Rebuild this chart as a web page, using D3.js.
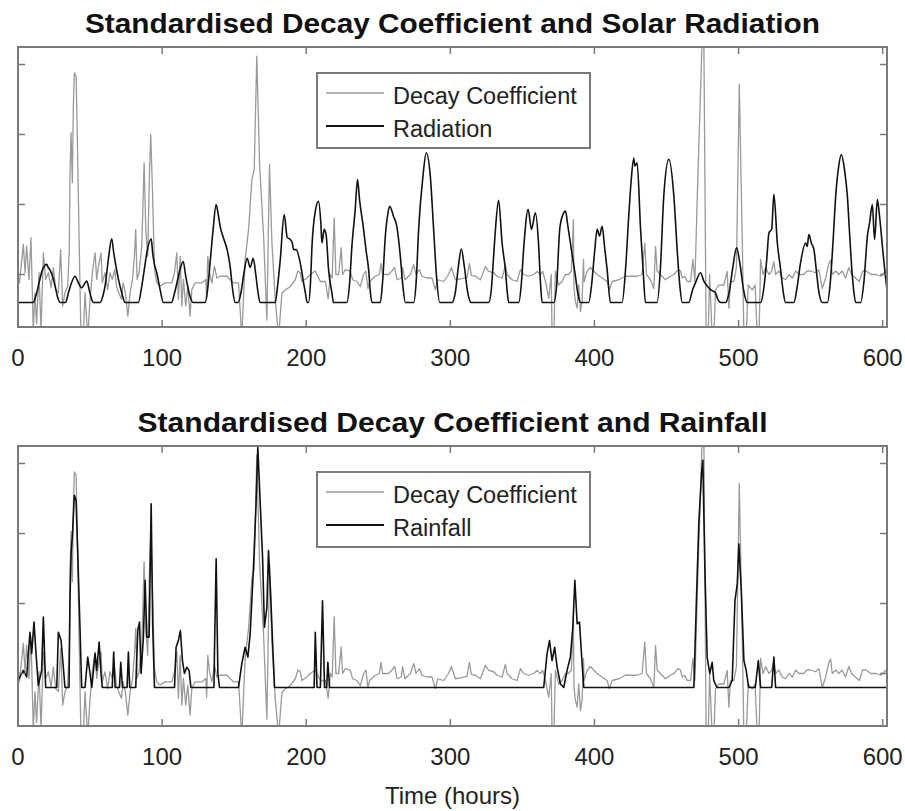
<!DOCTYPE html>
<html>
<head>
<meta charset="utf-8">
<script src="https://cdn.jsdelivr.net/npm/d3@7"></script>
<style>
  body { margin: 0; background: #fff; }
  svg { display: block; font-family: "Liberation Sans", Arial, sans-serif; }
</style>
</head>
<body>
<script>
// hours on x, standardised values on y ([hour, value] pairs)
var xTicks = [0, 100, 200, 300, 400, 500, 600];
var yTicks = [0, 2, 4, 6];
var titles = ["Standardised Decay Coefficient and Solar Radiation", "Standardised Decay Coefficient and Rainfall"];
var seriesNames = ["Decay Coefficient", "Radiation", "Rainfall"];

var decay = [[0,0],[1,-0.24],[3.7,0.86],[4.9,0.05],[6,0.81],[7.6,-0.14],[9,1.05],[10.6,-1.6],[11.8,-0.52],[12.9,-1.4],
  [14.6,0.05],[16,-1.6],[17.6,0.62],[19.2,-0.14],[21.1,0.05],[23,-0.38],[24.5,0.19],[26.2,-0.43],[28,-0.52],[29.6,0.71],
  [31,-0.9],[32.6,-0.52],[34.5,-0.33],[35.6,0.71],[36.1,2.9],[36.8,4.05],[37.7,2.62],[38.4,4.81],[39.1,5.76],[40.3,5.67],
  [41.2,3.86],[42.4,1],[43.7,-1.8],[45.3,-1.8],[46.5,-0.52],[48.4,-1.8],[50,-0.71],[51.6,0.05],[53.5,0.62],[54.6,-0.14],
  [55.8,0.24],[57.6,0.62],[58.5,-0.24],[60.4,0.05],[62.2,-0.43],[63.8,0.05],[65.4,-0.14],[67.1,0.14],[68.3,-0.33],[69.9,-0.52],
  [71.8,-0.71],[72.9,-0.24],[74.5,-0.52],[76.2,-1.19],[77.8,-0.52],[79.4,-0.14],[80.8,0.52],[81.7,1.29],[82.6,-0.14],[84,0.05],
  [85.9,0.81],[87.5,3.19],[88.7,1.24],[90,0.52],[91.2,2.9],[92.1,4.0],[93.3,2.43],[94.7,0.14],[96.3,-0.24],[98.6,-0.33],
  [102.1,-0.24],[106.7,-0.24],[108.6,0.05],[110.2,0.62],[111.3,-0.71],[112.5,0.52],[113.7,-0.9],[114.8,-0.14],[116.4,-0.9],[117.8,-0.33],
  [119.4,-1.19],[120.6,-0.43],[122.9,-0.24],[127.5,-0.24],[130.3,-0.14],[130.9,-0.68],[131.7,0.52],[132.9,0.05],[134.5,-0.24],[136.3,0.24],
  [138,-0.1],[140.3,-0.05],[145,-0.05],[149.5,-0.24],[153,-0.24],[155.3,-1.8],[157.6,0.43],[160,1.29],[162.3,2.71],[163.9,3.0],
  [165.7,6.24],[167.6,3.19],[170.4,1.1],[172.7,-1.3],[174.5,3.14],[176.2,0.9],[178.5,-0.71],[180.8,-1.8],[183.1,-0.55],[185.4,-0.44],
  [188.9,-0.35],[192.4,-0.15],[194.2,0.1],[195.9,0.05],[197,-0.2],[200.5,-0.1],[202.8,0],[206.3,0.1],[209.8,-0.2],[213.3,-0.2],
  [215.2,-0.7],[216.8,0],[218,-0.1],[219.4,1.62],[220.6,0],[222.5,0],[224.3,0.76],[225.2,0],[227.1,0.14],[230.5,0.1],
  [232.2,-0.15],[235.2,-0.2],[237.5,-0.35],[239.8,0],[241.4,0.1],[242.8,-0.4],[244,-0.2],[247.9,-0.05],[250.7,0],[251.9,0.32],
  [253,0],[257.2,0],[259.5,0.1],[261.4,0.2],[263,-0.15],[266,-0.1],[266.9,0.2],[268.5,-0.15],[272.3,0],[274.6,0.28],
  [276.2,0],[278.5,0.14],[280.3,-0.05],[283.8,-0.1],[287.3,-0.1],[289.6,-0.44],[291.2,-0.15],[295.4,-0.2],[298.8,0],[300.7,0.2],
  [303.5,-0.15],[308.1,-0.12],[311.6,-0.08],[313.2,0.32],[314.6,-0.03],[317.4,-0.05],[320.8,-0.15],[323.1,0.09],[324.3,0.23],[326.6,0.09],
  [330.1,0.05],[332.4,-0.05],[335.9,-0.1],[338.2,0.26],[339.4,0],[342.8,-0.15],[346.3,-0.2],[348.6,0.14],[350.9,0],[354.4,-0.05],
  [357.9,0],[360.2,0.09],[362.5,0],[364.1,0.09],[366,-0.2],[368.3,-0.68],[370,0],[370.6,-1.8],[371.8,-1.8],[372.9,0.09],
  [375.2,-0.3],[377.5,-0.2],[379.9,0],[382,0],[384,0.1],[385.4,1.57],[385.8,-0.4],[386.8,-0.77],[388,-0.96],[389.1,-0.3],
  [390.3,-1.06],[391.4,-0.77],[392.4,0.43],[392.8,-0.2],[394.9,0.09],[397.2,0.2],[399.5,0.1],[401.9,0],[405.3,-0.1],[408.8,-0.2],
  [410.4,-0.44],[412.3,-0.2],[416.9,-0.15],[419.2,-0.1],[421.5,-0.05],[426.2,-0.05],[429.6,-0.05],[433.1,0],[434.9,0.9],[436.1,0],
  [438.9,-0.15],[441.2,-0.4],[442.4,0.8],[443.5,0.1],[445.8,0],[449.3,-0.15],[452.8,-0.05],[455.1,0],[458.1,0.14],[459.7,0.1],
  [460.9,-0.1],[462.7,-0.05],[464.4,-0.2],[466.7,-0.2],[468.3,0.43],[469.7,-0.2],[471.5,2.43],[474.8,6.8],[475.9,6.8],[477.5,-1.8],
  [478.9,-1.8],[479.9,0],[481.7,-1.8],[482.8,-1.8],[484,-0.44],[486.3,-0.3],[489.8,-0.3],[492.1,0.09],[493.3,-0.96],[494.4,-0.2],
  [496.8,-0.2],[498.5,0.2],[500.5,5.43],[502.6,0.9],[503.7,-1.8],[505.3,-1.8],[506.7,-0.3],[509.5,-0.44],[511.5,-0.3],[513,-1.8],
  [514.2,-1.8],[515.3,0.43],[517,0],[518.8,0.2],[521.1,0],[523,0.1],[524.5,0.37],[525.7,0],[528,0.1],[530.3,-0.1],
  [532.6,-0.15],[535,0],[537.3,-0.1],[539.6,0.1],[541.9,0],[545.2,0],[547.5,0.1],[550,0.1],[553.4,0.05],[555.7,0.14],
  [558.1,-0.4],[560.4,-0.1],[562.7,0.32],[563.9,0.41],[565,0],[567.4,0.1],[569.6,0],[571.9,0.1],[574.2,-0.1],[576.5,0.2],
  [578.4,0],[581.1,-0.1],[583.8,-0.2],[586.1,0.1],[588.5,0.1],[591.9,0],[595.4,0],[598.8,-0.05],[602.3,0.1],[603.5,0.05]];

var radiation = [
  [0,-0.8],[10.5,-0.8],[12.5,-0.6],[14.6,-0.24],[17,0.14],[19.9,0.29],[21,0.2],[22.3,0.12],[24,-0.05],[25.7,-0.33],[27.5,-0.65],[29.2,-0.8],
  [33,-0.8],[35,-0.52],[37.5,-0.2],[39.6,-0.05],[41.5,-0.2],[44.2,-0.38],[47.7,-0.19],[49.5,-0.45],[50.7,-0.65],[52.3,-0.8],
  [57,-0.8],[59,-0.6],[60.4,-0.33],[62.7,0.43],[65,1.02],[66.5,0.6],[67.5,0.35],[69.7,-0.14],[72,-0.52],[74.3,-0.8],
  [83.5,-0.8],[85.9,-0.33],[87.5,0.1],[89.4,0.62],[92.4,1.02],[93.5,0.6],[94.7,0.29],[96.3,0.05],[98.6,-0.43],[100.9,-0.8],
  [106.5,-0.8],[108.5,-0.55],[110.5,-0.2],[112.5,0.15],[114.6,0.37],[116.4,-0.05],[118.7,-0.52],[121.5,-0.8],
  [129.9,-0.8],[131.5,-0.45],[133.3,0.34],[135.4,1.29],[137.5,2.0],[138.8,1.75],[140.3,1.37],[142.5,1.05],[145.1,0.71],[147.2,0.23],[149,-0.45],[150.7,-0.8],
  [152.8,-0.8],[154.8,-0.5],[156.8,0.05],[159,0.46],[161.1,0.2],[163.2,0.46],[165,0.0],[166.5,-0.5],[168,-0.8],
  [178.5,-0.8],[180.2,-0.3],[182,0.43],[184.7,1.71],[186.8,1.06],[188.9,1.0],[190.3,0.91],[191.2,0.71],[193,0.71],[195.8,0.34],[198,-0.2],[199.3,-0.5],[200.7,-0.8],
  [201.6,-0.8],[203,-0.2],[204,0.81],[206.3,1.81],[208.5,2.09],[210.2,1.43],[210.9,0.9],[212.5,1.29],[213.9,1.1],[215.5,0.14],[217.8,-0.52],[218.9,-0.8],
  [228.2,-0.8],[230,-0.3],[231.7,0.81],[234,1.86],[235.6,2.71],[237,2.14],[239.8,1.29],[241.5,0.7],[243.3,0.14],[244.5,-0.5],[245.6,-0.8],
  [251.4,-0.8],[253,-0.2],[254.9,1.1],[256.5,1.7],[257.9,1.95],[260.6,1.66],[262.9,1.37],[265.3,0.52],[267,-0.3],[268.8,-0.8],
  [274.5,-0.8],[276.3,-0.2],[278,1.29],[281,2.81],[283.3,3.48],[286.1,2.81],[288.4,1.29],[290.5,-0.1],[292.6,-0.8],
  [301.2,-0.8],[303.5,-0.5],[305.5,0.2],[307.6,0.73],[309.8,0.2],[312,-0.5],[314.4,-0.8],
  [326.6,-0.8],[328.5,-0.4],[330,0.5],[331.3,1.29],[333.5,2.12],[335.9,0.9],[338.2,0.14],[339.5,-0.5],[340.5,-0.8],
  [347.5,-0.8],[349.2,-0.3],[351,0.81],[354,1.86],[356.3,1.29],[359,1.76],[361.3,0.81],[362.5,-0.2],[363.7,-0.8],
  [371.8,-0.8],[373.8,-0.3],[375.9,1.29],[378,1.7],[379.9,1.81],[381.5,1.4],[383.3,0.9],[386.8,-0.05],[388.5,-0.55],[390.3,-0.8],
  [396,-0.8],[398,-0.3],[400,0.6],[401.9,1.29],[403.5,1.1],[405.3,1.38],[407,0.8],[408.8,0.14],[411.1,-0.8],
  [419.2,-0.8],[421.5,0.1],[423.8,1.67],[425.5,2.7],[427.3,3.33],[428,3.1],[429.6,3.19],[432,1.29],[433.8,0.1],[435.4,-0.8],
  [443.5,-0.8],[445.8,0.2],[448.1,2.24],[451.6,3.29],[455.1,2.24],[457.4,0.71],[459.2,-0.3],[460.9,-0.8],
  [465.5,-0.8],[468,-0.45],[470.1,-0.24],[473.6,0.05],[475.9,-0.19],[478.2,-0.33],[480.5,-0.43],[483.9,-0.52],[485.5,-0.7],[487.5,-0.8],
  [491,-0.8],[493.5,-0.5],[496,0.2],[498.6,0.76],[501,0.3],[503.5,-0.45],[506,-0.8],
  [515.3,-0.8],[517.5,-0.4],[519.5,0.4],[521.1,1.19],[523,1.3],[524.5,2.29],[526.9,0.9],[529.2,0.14],[531,-0.5],[532.6,-0.8],
  [538.4,-0.8],[540.5,-0.4],[543,0.33],[546.5,0.9],[547.6,0.8],[548.8,1.14],[550.5,0.9],[552.3,0.71],[554,0.1],[555.8,-0.52],[558.1,-0.8],
  [561.6,-0.8],[563.5,-0.3],[565.5,0.9],[567.4,2.24],[569.5,3.1],[571.3,3.43],[573.5,3.0],[575.5,2.24],[577,1.2],[578.5,0.2],[580,-0.5],[581.3,-0.8],
  [584.7,-0.8],[587,-0.2],[589.4,1.1],[591,1.5],[592.8,2.0],[594.4,1.0],[596.3,2.14],[598,1.6],[599.8,0.81],[601.5,0.1],[603.5,-0.62]];

var rainfall = [[0,-0.2],[3.7,0.09],[6,-0.1],[8.3,1.18],[9.5,0.57],[11.1,1.47],[12.5,0.57],[14.1,-0.34],[16.4,0.09],[17.6,1.61],
  [19.2,-0.4],[26.9,-0.4],[28,1.18],[29.9,0.94],[31,0.4],[32.6,-0.4],[35.4,-0.4],[36.1,2.18],[36.8,3.43],[37.7,3.9],
  [39.1,5.09],[40.3,4.94],[41.4,3.51],[43,1.32],[44.2,-0.4],[46.5,-0.4],[48.4,0.47],[50,0],[51.2,-0.4],[53.5,0.57],
  [54.6,0.09],[56.3,0.9],[57.6,0],[58.5,-0.4],[65.4,-0.4],[66.4,0.61],[67.4,-0.4],[70.4,-0.4],[71.3,0.32],[72.5,-0.4],
  [75.7,-0.4],[76.6,0.61],[77.5,-0.4],[81.7,-0.4],[83.1,1.23],[84.3,1.47],[85.4,0],[87,1.04],[88.2,2.66],[89.4,1.04],
  [91,1.04],[92.4,4.85],[93.5,1.32],[94.7,-0.4],[108.6,-0.4],[109.7,0.75],[111.3,0.94],[112.7,1.23],[114.1,0.37],[115.5,0],
  [117.1,0.18],[118.7,0.09],[120,-0.4],[136,-0.4],[136.3,0.56],[137.5,3.28],[138.7,0],[139.8,-0.4],[153,-0.4],[155.3,0.28],
  [157.6,0.75],[159.5,0.47],[161.1,1.13],[163.4,3.04],[165.1,4.75],[166.4,6.47],[168,4.94],[169.7,3.32],[171,1.32],[172.7,1.89],
  [173.8,3.51],[175.2,2.37],[176.6,0.94],[178,-0.4],[205.5,-0.4],[206.3,1.18],[207.5,-0.4],[209.8,-0.4],[211.3,2.08],[212.7,-0.4],
  [214.2,-0.4],[215,0.32],[216.2,-0.4],[364.8,-0.4],[367.1,0.56],[368.8,0.94],[370.6,0.37],[372.4,0.75],[374.1,0.18],[376.4,-0.3],
  [378.7,-0.4],[381,0.09],[383.3,0.47],[385,1.32],[386.4,2.66],[388,1.42],[389.6,1.47],[391,0.56],[392.6,-0.4],[469,-0.4],
  [470.6,1.89],[472.4,4.28],[474.3,5.7],[475.2,6.09],[476.6,3.04],[478.2,0.47],[480,0],[481.7,0.32],[482.8,-0.2],[485,-0.4],
  [493.3,-0.4],[495.6,-0.2],[497.5,2.08],[499.1,2.56],[500.2,3.7],[501.9,2.37],[503.7,0.37],[505.3,0.09],[507,-0.4],[511.6,-0.4],
  [513.7,0.37],[515.3,-0.4],[523,-0.4],[524.5,0.47],[525.7,-0.4],[603.5,-0.4]];

var width = 905, height = 811;
var axL = 18, axR = 887, axH = 280;
var panelTops = [47, 446];

var svg = d3.select("body").append("svg")
  .attr("width", width)
  .attr("height", height);

var x = d3.scaleLinear().domain([0, 603]).range([axL, axR]);

var frameColor = "#7a7a7a";

drawPanel(0, radiation, seriesNames[1], d3.curveMonotoneX);
drawPanel(1, rainfall, seriesNames[2], d3.curveLinear);

// x axis label under the lower panel
svg.append("text")
  .attr("x", (axL + axR) / 2)
  .attr("y", 804)
  .attr("text-anchor", "middle")
  .style("font-size", "24px")
  .style("fill", "#222")
  .text("Time (hours)");

function drawPanel(i, other, otherName, otherCurve){
  var top = panelTops[i], bottom = top + axH;
  var y = d3.scaleLinear().domain([-1.5, 6.5]).range([bottom, top]);
  var g = svg.append("g");

  g.append("clipPath").attr("id", "clip" + i)
    .append("rect")
    .attr("x", axL).attr("y", top)
    .attr("width", axR - axL).attr("height", axH);

  var plot = g.append("g").attr("clip-path", "url(#clip" + i + ")");

  var decayLine = d3.line().x(function(d){ return x(d[0]); }).y(function(d){ return y(d[1]); });
  var otherLine = d3.line().curve(otherCurve)
    .x(function(d){ return x(d[0]); }).y(function(d){ return y(d[1]); });

  plot.append("path").datum(decay)
    .attr("d", decayLine)
    .attr("fill", "none")
    .attr("stroke", "#9a9a9a")
    .attr("stroke-width", 1.3)
    .attr("stroke-linejoin", "round");

  plot.append("path").datum(other)
    .attr("d", otherLine)
    .attr("fill", "none")
    .attr("stroke", "#111")
    .attr("stroke-width", 1.6)
    .attr("stroke-linejoin", "round");

  // ticks pointing inward on all four sides
  var tickLen = 7;
  var ticks = g.append("g").attr("stroke", frameColor).attr("stroke-width", 1.5);
  xTicks.forEach(function(t){
    ticks.append("line").attr("x1", x(t)).attr("x2", x(t)).attr("y1", bottom).attr("y2", bottom - tickLen);
    ticks.append("line").attr("x1", x(t)).attr("x2", x(t)).attr("y1", top).attr("y2", top + tickLen);
  });
  yTicks.forEach(function(t){
    ticks.append("line").attr("x1", axL).attr("x2", axL + tickLen).attr("y1", y(t)).attr("y2", y(t));
    ticks.append("line").attr("x1", axR).attr("x2", axR - tickLen).attr("y1", y(t)).attr("y2", y(t));
  });

  // frame
  g.append("rect")
    .attr("x", axL).attr("y", top)
    .attr("width", axR - axL).attr("height", axH)
    .attr("fill", "none")
    .attr("stroke", frameColor)
    .attr("stroke-width", 2);

  // x tick labels
  g.selectAll(".xlab")
    .data(xTicks)
    .enter()
    .append("text")
    .attr("class", "xlab")
    .attr("x", function(d){ return x(d); })
    .attr("y", bottom + 39)
    .attr("text-anchor", "middle")
    .style("font-size", "24px")
    .style("fill", "#222")
    .text(function(d){ return d; });

  // title
  g.append("text")
    .attr("x", (axL + axR) / 2)
    .attr("y", top - 14)
    .attr("text-anchor", "middle")
    .attr("textLength", i == 0 ? 735 : 630)
    .attr("lengthAdjust", "spacingAndGlyphs")
    .style("font-size", "27px")
    .style("font-weight", "bold")
    .style("fill", "#111")
    .text(titles[i]);

  // legend
  var leg = g.append("g").attr("transform", "translate(317," + (top + 26) + ")");
  leg.append("rect")
    .attr("width", 273).attr("height", 75)
    .attr("fill", "#fff")
    .attr("stroke", frameColor)
    .attr("stroke-width", 2);
  var entries = [{name: seriesNames[0], color: "#9a9a9a", w: 1.3}, {name: otherName, color: "#111", w: 1.6}];
  entries.forEach(function(e, k){
    var ly = 20 + k * 33;
    leg.append("line")
      .attr("x1", 9).attr("x2", 67)
      .attr("y1", ly).attr("y2", ly)
      .attr("stroke", e.color)
      .attr("stroke-width", e.w + 0.4);
    leg.append("text")
      .attr("x", 76).attr("y", ly + 11)
      .style("font-size", "23.5px")
      .style("fill", "#222")
      .text(e.name);
  });
}
</script>
</body>
</html>
